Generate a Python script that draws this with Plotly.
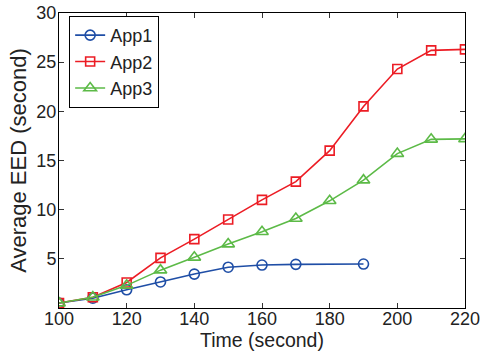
import plotly.graph_objects as go

time_app1 = [100, 110, 120, 130, 140, 150, 160, 170, 190]
eed_app1 = [0.5, 1.0, 1.85, 2.65, 3.45, 4.15, 4.37, 4.44, 4.47]

time_all = [100, 110, 120, 130, 140, 150, 160, 170, 180, 190, 200, 210, 220]
eed_app2 = [0.5, 1.1, 2.6, 5.1, 7.0, 9.0, 11.0, 12.85, 16.0, 20.5, 24.3, 26.2, 26.3]
eed_app3 = [0.5, 1.1, 2.3, 3.85, 5.15, 6.5, 7.75, 9.1, 10.9, 13.0, 15.7, 17.15, 17.2]

x_ticks = [100, 120, 140, 160, 180, 200, 220]
y_ticks = [5, 10, 15, 20, 25, 30]

FONT = "Liberation Sans, Arial, Helvetica"

fig = go.Figure()
fig.add_trace(go.Scatter(x=time_app1, y=eed_app1, name="App1", mode="lines+markers",
                         line=dict(color="#1f4ea6", width=1.6),
                         marker=dict(symbol="circle-open", size=10, color="#1f4ea6", line=dict(width=1.6))))
fig.add_trace(go.Scatter(x=time_all, y=eed_app2, name="App2", mode="lines+markers",
                         line=dict(color="#ec1c24", width=1.6),
                         marker=dict(symbol="square-open", size=9, color="#ec1c24", line=dict(width=1.6))))
fig.add_trace(go.Scatter(x=time_all, y=eed_app3, name="App3", mode="lines+markers",
                         line=dict(color="#5cba47", width=1.6),
                         marker=dict(symbol="triangle-up-open", size=11, color="#5cba47", line=dict(width=1.6))))

axis_common = dict(showline=True, linecolor="black", linewidth=1, mirror="ticks",
                   ticks="inside", ticklen=5, tickcolor="#333", showgrid=False, zeroline=False,
                   automargin=False,
                   tickfont=dict(family=FONT, size=18, color="#222"))
fig.update_xaxes(range=[100, 220], tickvals=x_ticks, ticklabelstandoff=-6,
                 title=dict(text="Time (second)", standoff=0,
                            font=dict(family=FONT, size=19.5, color="#222")), **axis_common)
fig.update_yaxes(range=[0, 30], tickvals=y_ticks, ticklabelstandoff=-2,
                 title=dict(text="Average EED (second)", standoff=3,
                            font=dict(family=FONT, size=22, color="#222")), **axis_common)

fig.update_layout(
    width=482, height=357,
    margin=dict(l=59, r=17, t=13, b=49),
    plot_bgcolor="white", paper_bgcolor="white",
    legend=dict(x=0.025, y=0.99, xanchor="left", yanchor="top", bordercolor="black", borderwidth=1,
                bgcolor="white", font=dict(family=FONT, size=18, color="#222"),
                tracegroupgap=0, itemwidth=30),
    showlegend=True,
)

fig.write_html("out.html", config={"displayModeBar": False},
               post_script="document.body.style.margin='0';document.body.style.overflow='hidden';")
